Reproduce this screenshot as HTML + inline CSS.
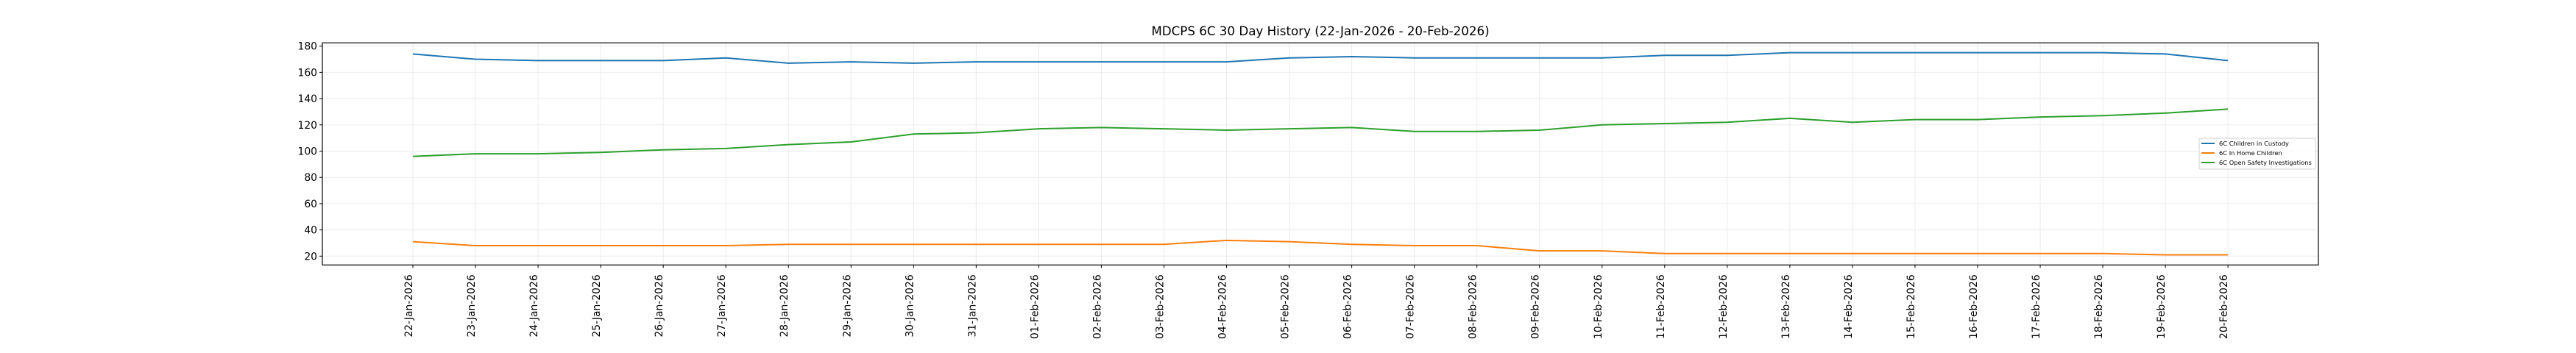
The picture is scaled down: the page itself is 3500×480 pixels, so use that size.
<!DOCTYPE html>
<html><head><meta charset="utf-8"><style>
html,body{margin:0;padding:0;background:#fff;width:3500px;height:480px;overflow:hidden}
svg{display:block;font-family:"DejaVu Sans","Liberation Sans",sans-serif}
</style></head><body>
<svg id="c" width="3500" height="480" xmlns="http://www.w3.org/2000/svg"></svg>
<script>
const s=document.getElementById('c');
const L=438,R=3150,T=58.3,B=360.3;
const X=i=>561+i*85.04, Y=v=>348.3-(v-20)*1.785;
const dates=[];
for(let d=22;d<=31;d++)dates.push(d+'-Jan-2026');
for(let d=1;d<=20;d++)dates.push((d<10?'0':'')+d+'-Feb-2026');
const blue=[174,170,169,169,169,171,167,168,167,168,168,168,168,168,171,172,171,171,171,171,173,173,175,175,175,175,175,175,174,169];
const orange=[31,28,28,28,28,28,29,29,29,29,29,29,29,32,31,29,28,28,24,24,22,22,22,22,22,22,22,22,21,21];
const green=[96,98,98,99,101,102,105,107,113,114,117,118,117,116,117,118,115,115,116,120,121,122,125,122,124,124,126,127,129,132];
let h='';
h+=`<text x="1794" y="48" font-size="16.7" text-anchor="middle">MDCPS 6C 30 Day History (22-Jan-2026 - 20-Feb-2026)</text>`;
for(let v=20;v<=180;v+=20){const y=Y(v);
h+=`<line x1="${L}" x2="${R}" y1="${y}" y2="${y}" stroke="#ebebeb" stroke-width="1"/>`;
h+=`<line x1="${L-4}" x2="${L}" y1="${y}" y2="${y}" stroke="#000"/>`;
h+=`<text x="${L-7}" y="${y+5}" font-size="13.9" text-anchor="end">${v}</text>`;}
dates.forEach((d,i)=>{const x=X(i);
h+=`<line x1="${x}" x2="${x}" y1="${T}" y2="${B}" stroke="#ebebeb" stroke-width="1"/>`;
h+=`<line x1="${x}" x2="${x}" y1="${B}" y2="${B+4}" stroke="#000"/>`;
h+=`<text transform="translate(${x-1},${B+13}) rotate(-90)" font-size="13.9" text-anchor="end">${d}</text>`;});
const line=(a,c)=>`<polyline fill="none" stroke="${c}" stroke-width="2" points="${a.map((v,i)=>X(i)+','+Y(v)).join(' ')}"/>`;
h+=line(blue,'#1f77b4')+line(orange,'#ff7f0e')+line(green,'#2ca02c');
h+=`<rect x="${L}" y="${T}" width="${R-L}" height="${B-T}" fill="none" stroke="#000" stroke-width="1.2"/>`;
h+=`<rect x="2988" y="188" width="158" height="42" fill="#fff" fill-opacity="0.8" stroke="#d0d0d0" rx="2"/>`;
[['6C Children in Custody','#1f77b4'],['6C In Home Children','#ff7f0e'],['6C Open Safety Investigations','#2ca02c']].forEach((e,i)=>{const y=195+i*13;
h+=`<line x1="2991" x2="3009" y1="${y}" y2="${y}" stroke="${e[1]}" stroke-width="2"/>`;
h+=`<text x="3015" y="${y+3}" font-size="8.3">${e[0]}</text>`;});
s.innerHTML=h;
</script>
</body></html>
